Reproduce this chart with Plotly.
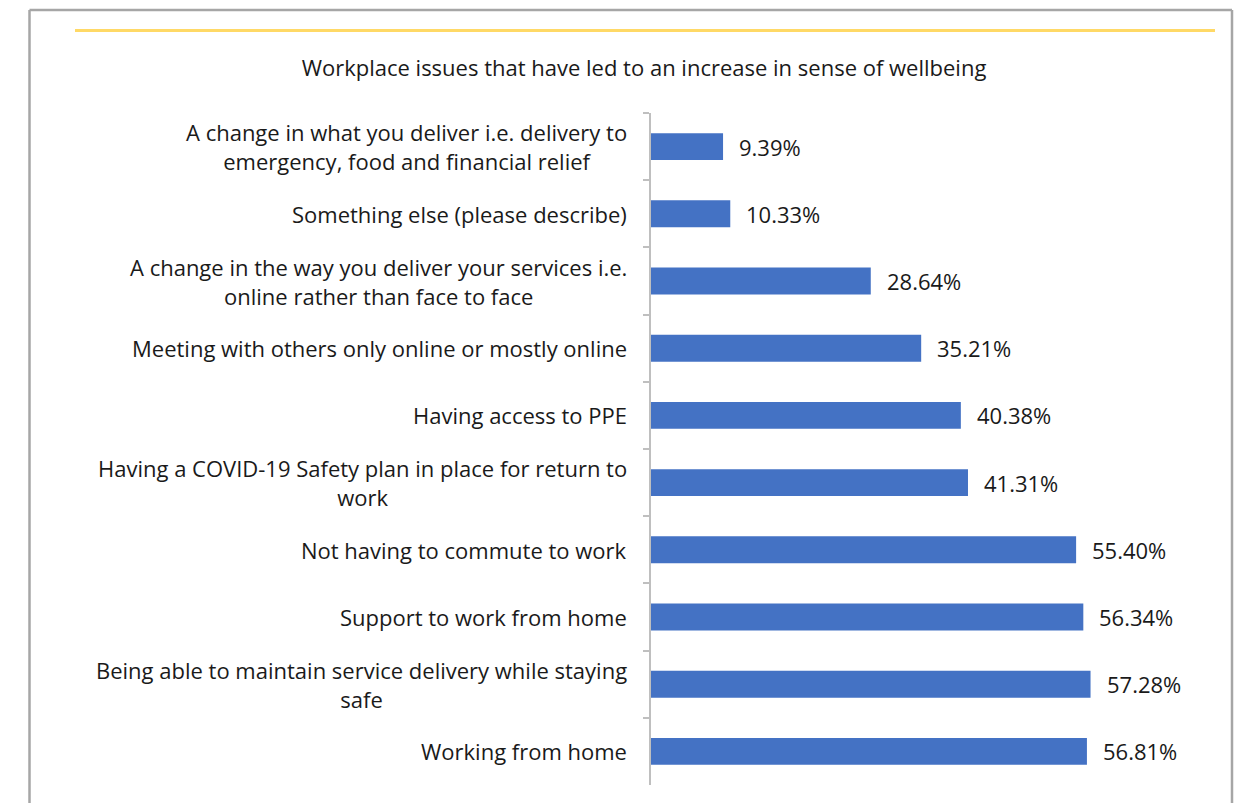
import plotly.graph_objects as go

# Survey responses, listed top to bottom as displayed
categories = [
    "A change in what you deliver i.e. delivery to<br>emergency, food and financial relief",
    "Something else (please describe)",
    "A change in the way you deliver your services i.e.<br>online rather than face to face",
    "Meeting with others only online or mostly online",
    "Having access to PPE",
    "Having a COVID-19 Safety plan in place for return to<br>work",
    "Not having to commute to work",
    "Support to work from home",
    "Being able to maintain service delivery while staying<br>safe",
    "Working from home",
]
values = [9.39, 10.33, 28.64, 35.21, 40.38, 41.31, 55.40, 56.34, 57.28, 56.81]
value_labels = ["9.39%", "10.33%", "28.64%", "35.21%", "40.38%", "41.31%",
                "55.40%", "56.34%", "57.28%", "56.81%"]
title_text = "Workplace issues that have led to an increase in sense of wellbeing"

FONT = "Open Sans"
FONT_SIZE = 22
TEXT_COLOR = "#1a1a1a"

# Plot area in pixels
W, H = 1249, 803
L, R, T, B = 651, 1215, 113, 785


def px_x(p):
    return (p - L) / (R - L)


def px_y(p):
    return (B - p) / (B - T)


fig = go.Figure(
    go.Bar(
        x=values,
        y=categories,
        orientation="h",
        marker=dict(color="#4472C4", line=dict(width=0)),
        hoverinfo="skip",
    )
)

# value labels just past the end of each bar
annotations = [
    dict(
        x=v, y=c, text=lbl, xref="x", yref="y",
        xanchor="left", yanchor="middle", xshift=14, showarrow=False,
        font=dict(family=FONT, size=FONT_SIZE, color=TEXT_COLOR),
    )
    for v, c, lbl in zip(values, categories, value_labels)
]

# category labels: block right-aligned to the axis, lines centred within it
annotations += [
    dict(
        x=px_x(629), y=c, text=c, xref="paper", yref="y",
        xanchor="right", yanchor="middle", align="center", showarrow=False,
        font=dict(family=FONT, size=FONT_SIZE, color=TEXT_COLOR),
    )
    for c in categories
]

shapes = [
    # outer frame
    dict(type="line", xref="paper", yref="paper",
         x0=px_x(29.5), x1=px_x(29.5), y0=px_y(10), y1=px_y(820),
         line=dict(color="#a6a6a6", width=2.5)),
    dict(type="line", xref="paper", yref="paper",
         x0=px_x(29.5), x1=px_x(1232), y0=px_y(10), y1=px_y(10),
         line=dict(color="#a6a6a6", width=2.5)),
    dict(type="line", xref="paper", yref="paper",
         x0=px_x(1232), x1=px_x(1232), y0=px_y(10), y1=px_y(820),
         line=dict(color="#a6a6a6", width=2.5)),
    # accent rule
    dict(type="line", xref="paper", yref="paper",
         x0=px_x(75), x1=px_x(1215), y0=px_y(30.5), y1=px_y(30.5),
         line=dict(color="#FFD966", width=3)),
]

fig.update_layout(
    width=W, height=H,
    margin=dict(l=L, r=W - R, t=T, b=H - B, pad=0),
    paper_bgcolor="white", plot_bgcolor="white",
    bargap=0.6,
    showlegend=False,
    title=dict(text=title_text, x=644 / W, xanchor="center", xref="container",
               y=1 - 68 / H, yanchor="middle", yref="container",
               font=dict(family=FONT, size=FONT_SIZE, color=TEXT_COLOR)),
    xaxis=dict(range=[0, 73.5], visible=False, fixedrange=True),
    yaxis=dict(
        autorange="reversed",
        showline=True, linecolor="#bfbfbf", linewidth=1.5,
        ticks="outside", tickson="boundaries", ticklen=6, tickcolor="#bfbfbf",
        tickwidth=1.5,
        showticklabels=False,
        showgrid=False, zeroline=False, fixedrange=True,
    ),
    annotations=annotations,
    shapes=shapes,
)

fig.write_html("out.html")
